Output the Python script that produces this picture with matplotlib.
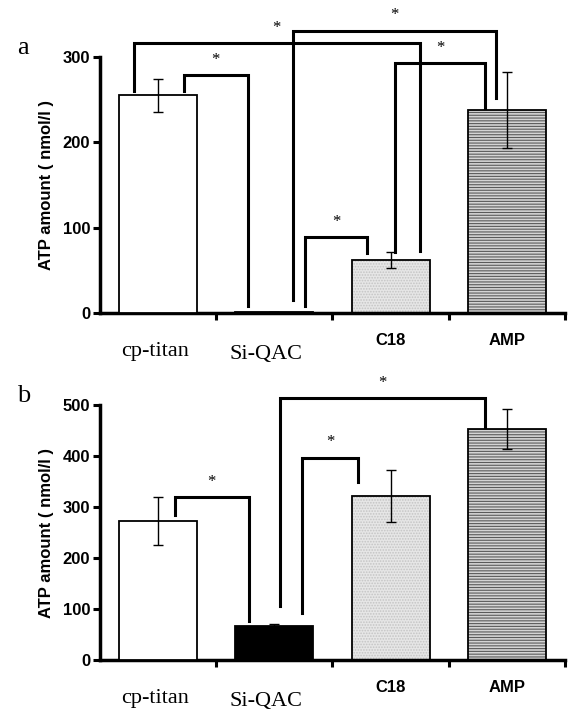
import numpy as np
import matplotlib
matplotlib.use("Agg")
import matplotlib.pyplot as plt

plt.rcParams['hatch.linewidth'] = 0.8

# surfaces on the x axis
surfaces = ["cp-titan", "Si-QAC", "C18", "AMP"]

# ATP amount (nmol/l), mean and standard deviation
atp_a = [255, 1, 62, 238]
sd_a = [19, 0, 9, 45]
atp_b = [272, 67, 322, 453]
sd_b = [47, 4, 51, 39]

# significance brackets: x left, x right, y left leg, y right leg, y top
brackets_a = [
    (0.22, 0.77, 260, 8, 279),
    (-0.21, 2.25, 260, 73, 316),
    (1.16, 2.91, 15, 252, 331),
    (2.04, 2.81, 71, 240, 293),
    (1.26, 1.80, 8, 70, 89),
]
brackets_b = [
    (0.145, 0.78, 284, 76, 320),
    (1.24, 1.72, 92, 350, 397),
    (1.05, 2.81, 106, 457, 513),
]

# bar styles per surface
face = ["white", "black", "#e6e6e6", "#d4d4d4"]
hatch = [None, None, "......", "------"]
hatch_col = [None, None, "#c4c4c4", "#5a5a5a"]


def draw_panel(ax, vals, sds, brackets, ymax, yticks, letter):
    x = np.arange(len(surfaces))
    for i in range(len(surfaces)):
        if hatch[i]:
            ax.bar(x[i], vals[i], 0.67, color=face[i], hatch=hatch[i],
                   edgecolor=hatch_col[i], linewidth=0, zorder=2)
            ax.bar(x[i], vals[i], 0.67, fill=False, edgecolor="black",
                   linewidth=1.3, zorder=3)
        else:
            ax.bar(x[i], vals[i], 0.67, color=face[i], edgecolor="black",
                   linewidth=1.3, zorder=3)
    ax.errorbar(x, vals, yerr=sds, fmt="none", ecolor="black", elinewidth=1.0,
                capsize=3.5, capthick=1.0, zorder=4)

    for xl, xr, yl, yr, top in brackets:
        ax.plot([xl, xl, xr, xr], [yl, top, top, yr], color="black", lw=2.2,
                solid_joinstyle="miter", clip_on=False, zorder=5)
        ax.annotate("*", ((xl + xr) / 2, top), xytext=(0, 11),
                    textcoords="offset points", ha="center", va="center",
                    family="Liberation Serif", fontsize=12, annotation_clip=False)

    ax.set_xlim(-0.5, 3.5)
    ax.set_ylim(0, ymax)
    ax.set_yticks(yticks)
    ax.set_xticks([0.5, 1.5, 2.5, 3.5])
    ax.set_xticklabels([])
    ax.spines["top"].set_visible(False)
    ax.spines["right"].set_visible(False)
    ax.spines["left"].set_linewidth(2.5)
    ax.spines["bottom"].set_linewidth(2.5)
    ax.tick_params(axis="both", direction="out", length=5, width=2.2)
    ax.tick_params(axis="y", pad=2)
    for lab in ax.get_yticklabels():
        lab.set_fontweight("bold")
        lab.set_fontsize(12)
        lab.set_family("Liberation Sans")
    ax.set_ylabel("ATP amount ( nmol/l )", fontsize=12, fontweight="bold",
                  family="Liberation Sans", labelpad=6)

    # category names: serif for the first two, bold sans for the others
    for i, name in enumerate(surfaces):
        if i < 2:
            ax.annotate(name, (x[i] - 0.03 - 0.04 * i, 0), xycoords=("data", "axes fraction"),
                        xytext=(0, -28 - 2 * i), textcoords="offset points",
                        ha="center", va="center", family="Liberation Serif",
                        fontsize=16)
        else:
            ax.annotate(name, (x[i], 0), xycoords=("data", "axes fraction"),
                        xytext=(0, -19.5), textcoords="offset points",
                        ha="center", va="center", family="Liberation Sans",
                        fontweight="bold", fontsize=12)

    ax.text(-0.165, 1.035, letter, transform=ax.transAxes, family="Liberation Serif",
            fontsize=19, ha="center", va="center")


fig = plt.figure(figsize=(5.68, 7.11), dpi=100)
ax_a = fig.add_axes([0.176, 0.5598, 0.8187, 0.36])
ax_b = fig.add_axes([0.176, 0.0717, 0.8187, 0.3586])

draw_panel(ax_a, atp_a, sd_a, brackets_a, 300, [0, 100, 200, 300], "a")
draw_panel(ax_b, atp_b, sd_b, brackets_b, 500, [0, 100, 200, 300, 400, 500], "b")

fig.savefig("out.png", dpi=100)
